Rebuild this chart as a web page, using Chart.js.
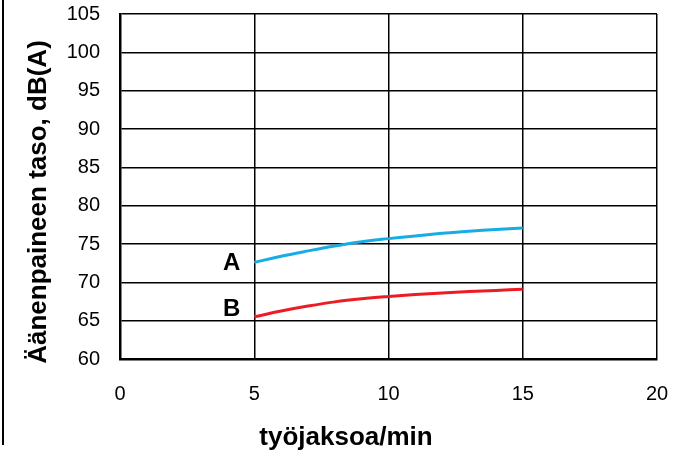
<!DOCTYPE html>
<html>
<head>
<meta charset="utf-8">
<script src="https://cdn.jsdelivr.net/npm/chart.js@4"></script>
<style>
  html,body{margin:0;padding:0;background:#fff;}
  #wrap{width:677px;height:455px;position:relative;}
</style>
</head>
<body>
<div id="wrap"><canvas id="c" width="677" height="455"></canvas></div>
<script>
// x = työjaksoa/min, y = dB(A)
const xs = [5, 6, 7, 8, 9, 10, 11, 12, 13, 14, 15];
const curveA = [72.6, 73.4, 74.1, 74.75, 75.3, 75.7, 76.05, 76.4, 76.65, 76.9, 77.1];
const curveB = [65.5, 66.25, 66.9, 67.45, 67.85, 68.15, 68.4, 68.6, 68.8, 68.95, 69.1];
const seriesNames = ['A', 'B'];
const xTitle = 'työjaksoa/min';
const yTitle = 'Äänenpaineen taso, dB(A)';

const toPts = (ys)=> xs.map((x,i)=>({x:x, y:ys[i]}));

// axis titles, curve letters and the left frame line
const decor = {
  id:'decor',
  afterDraw(chart){
    const ctx = chart.ctx, sx = chart.scales.x, sy = chart.scales.y;
    ctx.save();
    ctx.fillStyle = '#000';
    // left frame line
    ctx.fillRect(2, 0, 2, 445);
    // x title
    ctx.font = 'bold 26px "Liberation Sans", Arial, sans-serif';
    ctx.textAlign = 'center';
    ctx.textBaseline = 'alphabetic';
    ctx.fillText(xTitle, 346, 445);
    // y title
    ctx.save();
    ctx.translate(46, 202);
    ctx.rotate(-Math.PI/2);
    ctx.fillText(yTitle, 0, 0);
    ctx.restore();
    // curve letters
    ctx.font = 'bold 24px "Liberation Sans", Arial, sans-serif';
    ctx.textAlign = 'right';
    ctx.textBaseline = 'middle';
    ctx.fillText(seriesNames[0], sx.getPixelForValue(xs[0]) - 14, sy.getPixelForValue(curveA[0]) + 1);
    ctx.fillText(seriesNames[1], sx.getPixelForValue(xs[0]) - 14, sy.getPixelForValue(curveB[0]) - 7);
    ctx.restore();
  }
};

const tickFont = {family:'"Liberation Sans", Arial', size:20};

new Chart(document.getElementById('c').getContext('2d'),{
  type:'line',
  data:{datasets:[
    {label:seriesNames[0], data:toPts(curveA), borderColor:'#17ace6', borderWidth:3, pointRadius:0, tension:0.4},
    {label:seriesNames[1], data:toPts(curveB), borderColor:'#ec1c24', borderWidth:3, pointRadius:0, tension:0.4}
  ]},
  options:{
    responsive:false, animation:false,
    layout:{padding:{left:0, right:20, top:14, bottom:0}},
    plugins:{legend:{display:false}, tooltip:{enabled:false}},
    scales:{
      x:{type:'linear', min:0, max:20,
         ticks:{stepSize:5, padding:0, color:'#000', font:tickFont},
         grid:{color:'#000', lineWidth:1.5, drawTicks:true, tickLength:23, tickColor:'rgba(0,0,0,0)'},
         border:{color:'#000', width:2.5},
         afterFit:(s)=>{ s.height = 96; }},
      y:{min:60, max:105,
         ticks:{stepSize:5, padding:0, color:'#000', font:tickFont},
         grid:{color:'#000', lineWidth:1.5, drawTicks:true, tickLength:20, tickColor:'rgba(0,0,0,0)'},
         border:{color:'#000', width:2.5},
         afterFit:(s)=>{ s.width = 120; }}
    }
  },
  plugins:[decor]
});
</script>
</body>
</html>
